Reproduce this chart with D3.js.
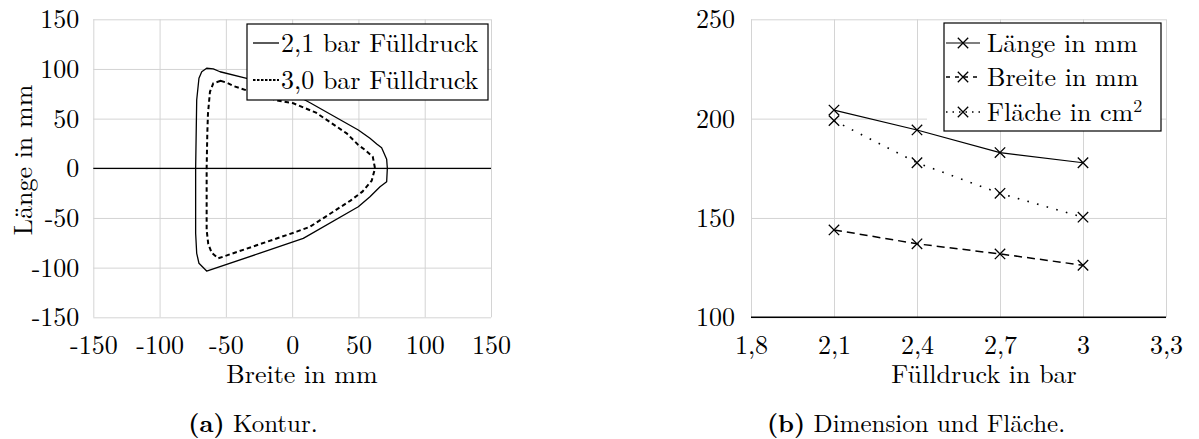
<!DOCTYPE html>
<html>
<head>
<meta charset="utf-8">
<script src="https://cdn.jsdelivr.net/npm/d3@7"></script>
<style>
  body { margin: 0; background: #fff; }
</style>
</head>
<body>
<svg id="fig" width="1199" height="439"></svg>
<script>
// Kontur bei 2,1 bar Fülldruck: Breite / Länge in mm, im Uhrzeigersinn ab oben links
const breite21 = [-64.5, -59.5, -54.4, -34.3, 5.0, 13.5, 49.9, 58.7, 63.8, 67.5, 71.3, 71.8, 71.3, 66.3, 58.7, 49.9, 8.4, -24.3, -64.5, -70.3, -72.0, -72.8, -72.8, -72.0, -70.3, -68.2];
const laenge21 = [100.7, 100.0, 97.2, 90.6, 72.0, 66.0, 38.6, 30.2, 24.5, 20.7, 9.0, 0.0, -13.5, -18.5, -28.6, -38.7, -70.5, -85.4, -103.4, -95.6, -85.6, -65.4, 0.0, 68.8, 90.6, 97.2];

// Kontur bei 3,0 bar Fülldruck
const breite30 = [-54.0, -49.4, -44.4, -11.7, 0.9, 18.0, 41.1, 49.9, 55.5, 60.8, 62.5, 60.0, 53.0, 44.0, 13.5, 3.4, -55.7, -60.7, -63.3, -64.5, -64.5, -64.0, -63.5, -62.0, -59.5];
const laenge30 = [88.0, 86.2, 82.9, 68.4, 65.4, 56.0, 35.2, 23.5, 18.0, 11.7, 0.0, -12.5, -23.5, -32.5, -58.8, -63.8, -90.6, -85.0, -76.0, -62.0, 0.0, 35.2, 55.0, 77.0, 85.6];

// Dimension und Fläche über dem Fülldruck
const fuelldruck = [2.1, 2.4, 2.7, 3.0];
const laenge = [204.3, 194.3, 182.9, 177.8];
const breite = [144.0, 137.0, 131.9, 126.2];
const flaeche = [199.0, 177.8, 162.4, 150.4];

// Achsenteilungen
const konturTicks = [-150, -100, -50, 0, 50, 100, 150];
const druckTicks = [1.8, 2.1, 2.4, 2.7, 3.0, 3.3];
const druckTickLabels = ["1,8", "2,1", "2,4", "2,7", "3", "3,3"];
const wertTicks = [100, 150, 200, 250];

const FS = 26;
const SERIF = '"Latin Modern Roman", "Liberation Serif", serif';
const GRID = "#d4d4d4";
const svg = d3.select("#fig");

// Text in der Schrift der Abbildung anlegen
function txt(parent, x, y, size, s) {
  return parent.append("text").attr("x", x).attr("y", y)
    .style("font-family", SERIF).style("font-size", size + "px").attr("fill", "#000").text(s);
}

function styleGrid(g) {
  g.select(".domain").remove();
  g.selectAll(".tick line").attr("stroke", GRID).attr("stroke-width", 1);
  g.selectAll(".tick text").style("font-family", SERIF).style("font-size", FS + "px").attr("fill", "#000");
}

// ---------- (a) Kontur ----------
const xa = d3.scaleLinear().domain([-150, 150]).range([93.3, 491]);
const ya = d3.scaleLinear().domain([-150, 150]).range([317.3, 19.3]);
const wA = xa.range()[1] - xa.range()[0];
const hA = ya.range()[0] - ya.range()[1];

const gA = svg.append("g");
gA.append("g")
  .attr("transform", `translate(0,${ya(-150)})`)
  .call(d3.axisBottom(xa).tickValues(konturTicks).tickSize(-hA).tickFormat(d => String(d)))
  .call(styleGrid)
  .call(g => g.selectAll(".tick text").attr("dy", null).attr("y", 37));
gA.append("g")
  .attr("transform", `translate(${xa(-150)},0)`)
  .call(d3.axisLeft(ya).tickValues(konturTicks).tickSize(-wA).tickPadding(14).tickFormat(d => String(d)))
  .call(styleGrid)
  .call(g => g.selectAll(".tick text").attr("dy", "0.33em"));

// Nulllinie
gA.append("line")
  .attr("x1", xa(-150)).attr("x2", xa(150))
  .attr("y1", ya(0)).attr("y2", ya(0))
  .attr("stroke", "#000").attr("stroke-width", 1.3);

const kontur = d3.line().x(d => xa(d[0])).y(d => ya(d[1])).curve(d3.curveLinearClosed);
gA.append("path")
  .attr("d", kontur(d3.zip(breite21, laenge21)))
  .attr("fill", "none").attr("stroke", "#000").attr("stroke-width", 1.3)
  .attr("stroke-linejoin", "round");
gA.append("path")
  .attr("d", kontur(d3.zip(breite30, laenge30)))
  .attr("fill", "none").attr("stroke", "#000").attr("stroke-width", 2)
  .attr("stroke-dasharray", "4.5,3");

// Legende (a)
const legA = gA.append("g");
legA.append("rect").attr("x", 247).attr("y", 24).attr("width", 241).attr("height", 76)
  .attr("fill", "#fff").attr("stroke", "#000").attr("stroke-width", 1.2);
[["2,1 bar Fülldruck", null, 1.3, 43], ["3,0 bar Fülldruck", "2.5,1.5", 2, 80]].forEach(([label, dash, sw, y]) => {
  legA.append("line").attr("x1", 253).attr("x2", 279).attr("y1", y).attr("y2", y)
    .attr("stroke", "#000").attr("stroke-width", sw).attr("stroke-dasharray", dash);
  txt(legA, 281, y, FS, label).attr("dy", "0.33em");
});

// Achsentitel (a)
txt(gA, 302, 383, FS, "Breite in mm").attr("text-anchor", "middle");
txt(gA, 0, 0, FS, "Länge in mm").attr("text-anchor", "middle")
  .attr("transform", "translate(32,160) rotate(-90)");

// ---------- (b) Dimension und Fläche ----------
const xb = d3.scaleLinear().domain([1.8, 3.3]).range([751, 1166]);
const yb = d3.scaleLinear().domain([100, 250]).range([317.3, 19.3]);
const wB = xb.range()[1] - xb.range()[0];
const hB = yb.range()[0] - yb.range()[1];

const gB = svg.append("g");
gB.append("g")
  .attr("transform", `translate(0,${yb(100)})`)
  .call(d3.axisBottom(xb).tickValues(druckTicks).tickSize(-hB).tickFormat((d, i) => druckTickLabels[i]))
  .call(styleGrid)
  .call(g => g.selectAll(".tick text").attr("dy", null).attr("y", 37));
gB.append("g")
  .attr("transform", `translate(${xb(1.8)},0)`)
  .call(d3.axisLeft(yb).tickValues(wertTicks).tickSize(-wB).tickPadding(16).tickFormat(d => String(d)))
  .call(styleGrid)
  .call(g => g.selectAll(".tick text").attr("dy", "0.33em"));

// x-Achse
gB.append("line")
  .attr("x1", xb(1.8)).attr("x2", xb(3.3))
  .attr("y1", yb(100)).attr("y2", yb(100))
  .attr("stroke", "#000").attr("stroke-width", 1.5);

const serien = [
  { name: "Länge in mm", values: laenge, dash: null, sw: 1.2 },
  { name: "Breite in mm", values: breite, dash: "8,5", sw: 1.5 },
  { name: "Fläche in cm", sup: "2", values: flaeche, dash: "1.6,8.4", sw: 1.6 }
];

const lineB = d3.line().x(d => xb(d[0])).y(d => yb(d[1]));
const kreuz = (cx, cy, r) => `M${cx - r},${cy - r}L${cx + r},${cy + r}M${cx - r},${cy + r}L${cx + r},${cy - r}`;

serien.forEach(s => {
  const pts = d3.zip(fuelldruck, s.values);
  gB.append("path").attr("d", lineB(pts))
    .attr("fill", "none").attr("stroke", "#000").attr("stroke-width", s.sw)
    .attr("stroke-dasharray", s.dash);
  gB.append("g").selectAll("path").data(pts).join("path")
    .attr("d", d => kreuz(xb(d[0]), yb(d[1]), 5.2))
    .attr("stroke", "#000").attr("stroke-width", 1.3).attr("fill", "none");
});

// Legende (b)
const legB = gB.append("g");
legB.append("rect").attr("x", 927).attr("y", 23).attr("width", 17).attr("height", 108).attr("fill", "#fff");
legB.append("rect").attr("x", 944).attr("y", 23).attr("width", 217).attr("height", 108)
  .attr("fill", "#fff").attr("stroke", "#000").attr("stroke-width", 1.2);
const rowsB = [43, 77, 112];
const legDash = [null, "4,5", "1.5,5"];
serien.forEach((s, i) => {
  const y = rowsB[i];
  legB.append("line").attr("x1", 946).attr("x2", 980).attr("y1", y).attr("y2", y)
    .attr("stroke", "#000").attr("stroke-width", s.sw).attr("stroke-dasharray", legDash[i]);
  legB.append("path").attr("d", kreuz(963, y, 5.2)).attr("stroke", "#000").attr("stroke-width", 1.3);
  const t = txt(legB, 987, y, FS, s.name).attr("dy", "0.33em");
  if (s.sup) t.append("tspan").attr("dy", "-0.45em").style("font-size", "18px").text(s.sup);
});

// Achsentitel (b)
txt(gB, 984, 383, FS, "Fülldruck in bar").attr("text-anchor", "middle");

// ---------- Bildunterschriften ----------
function caption(x, marke, text) {
  const t = txt(svg, x, 432, 25, "").attr("text-anchor", "middle");
  t.append("tspan").attr("font-weight", "bold").text(marke);
  t.append("tspan").text(" " + text);
}
caption(253, "(a)", "Kontur.");
caption(916, "(b)", "Dimension und Fläche.");
</script>
</body>
</html>
